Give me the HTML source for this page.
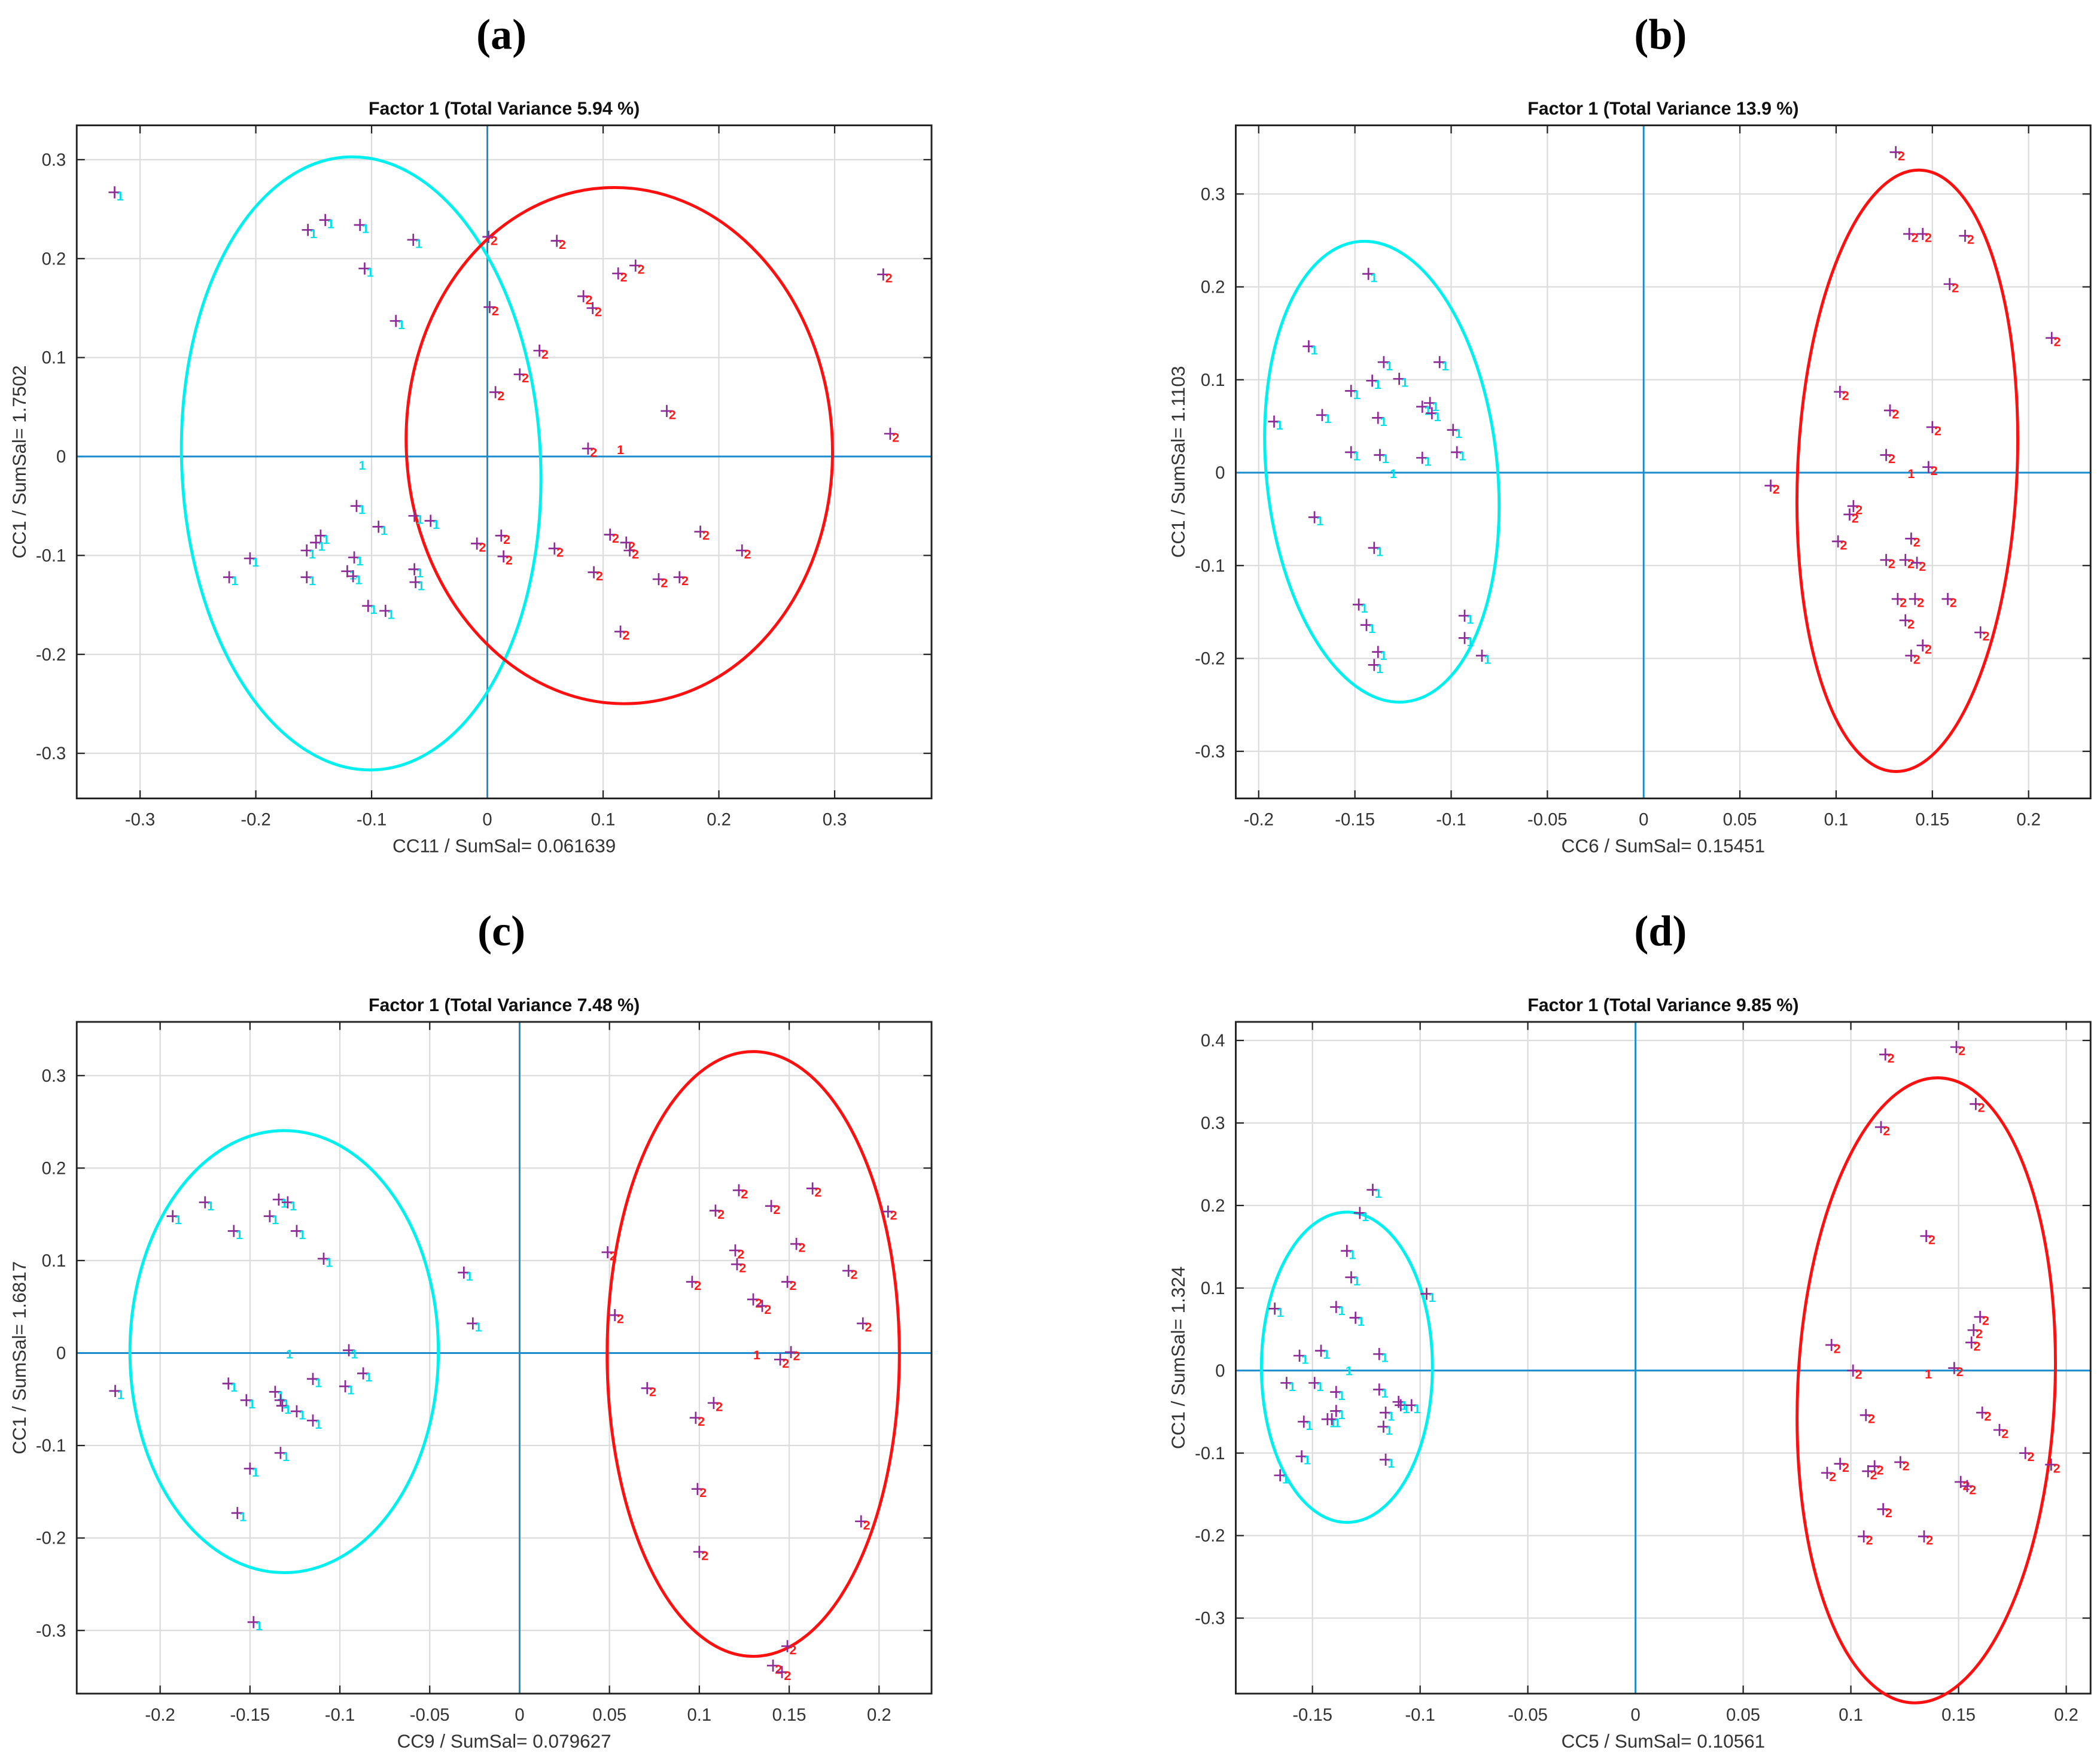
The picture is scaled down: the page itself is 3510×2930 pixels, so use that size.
<!DOCTYPE html>
<html><head><meta charset="utf-8"><style>
html,body{margin:0;padding:0;background:#fff;}
svg{display:block;}
</style></head><body>
<svg id="fig" width="3510" height="2930" viewBox="0 0 1560 1302" xmlns="http://www.w3.org/2000/svg" font-family="Liberation Sans, Arial, sans-serif"></svg>
<script>
// ---------- data ----------
const panelLetters = ["(a)","(b)","(c)","(d)"];
const panelTitles = ["Factor 1 (Total Variance 5.94 %)","Factor 1 (Total Variance 13.9 %)","Factor 1 (Total Variance 7.48 %)","Factor 1 (Total Variance 9.85 %)"];
const xLabels = ["CC11 / SumSal= 0.061639","CC6 / SumSal= 0.15451","CC9 / SumSal= 0.079627","CC5 / SumSal= 0.10561"];
const yLabels = ["CC1 / SumSal= 1.7502","CC1 / SumSal= 1.1103","CC1 / SumSal= 1.6817","CC1 / SumSal= 1.324"];
const xDomains = [[-0.3547,0.3837],[-0.2119,0.2322],[-0.2464,0.2292],[-0.1856,0.2113]];
const yDomains = [[-0.3456,0.3347],[-0.3507,0.3739],[-0.3683,0.3581],[-0.3915,0.4225]];
const xTicks = [[-0.3,-0.2,-0.1,0,0.1,0.2,0.3],[-0.2,-0.15,-0.1,-0.05,0,0.05,0.1,0.15,0.2],[-0.2,-0.15,-0.1,-0.05,0,0.05,0.1,0.15,0.2],[-0.15,-0.1,-0.05,0,0.05,0.1,0.15,0.2]];
const yTicks = [[-0.3,-0.2,-0.1,0,0.1,0.2,0.3],[-0.3,-0.2,-0.1,0,0.1,0.2,0.3],[-0.3,-0.2,-0.1,0,0.1,0.2,0.3],[-0.3,-0.2,-0.1,0,0.1,0.2,0.3,0.4]];

const aCyanX=[-0.322,-0.155,-0.140,-0.110,-0.106,-0.064,-0.079,-0.113,-0.094,-0.144,-0.148,-0.156,-0.115,-0.121,-0.116,-0.063,-0.049,-0.063,-0.062,-0.103,-0.088,-0.205,-0.223,-0.156];
const aCyanY=[0.267,0.229,0.239,0.234,0.190,0.219,0.137,-0.050,-0.071,-0.080,-0.087,-0.095,-0.102,-0.116,-0.121,-0.060,-0.065,-0.114,-0.127,-0.151,-0.156,-0.103,-0.122,-0.122];
const aRedX=[0.001,0.002,0.060,0.083,0.091,0.113,0.128,0.007,0.028,0.045,0.155,0.087,0.348,0.342,-0.009,0.014,0.012,0.058,0.106,0.120,0.123,0.092,0.148,0.166,0.184,0.220,0.115];
const aRedY=[0.222,0.151,0.218,0.162,0.150,0.185,0.193,0.065,0.083,0.107,0.046,0.008,0.023,0.184,-0.088,-0.101,-0.080,-0.093,-0.079,-0.087,-0.095,-0.117,-0.124,-0.122,-0.076,-0.095,-0.177];

const bCyanX=[-0.192,-0.174,-0.167,-0.171,-0.143,-0.152,-0.141,-0.135,-0.127,-0.138,-0.152,-0.137,-0.115,-0.115,-0.111,-0.110,-0.106,-0.099,-0.097,-0.140,-0.148,-0.144,-0.138,-0.140,-0.093,-0.093,-0.084];
const bCyanY=[0.055,0.136,0.062,-0.048,0.214,0.088,0.099,0.119,0.101,0.059,0.022,0.019,0.016,0.071,0.075,0.064,0.119,0.046,0.022,-0.081,-0.142,-0.164,-0.193,-0.207,-0.154,-0.178,-0.197];
const bRedX=[0.131,0.138,0.145,0.167,0.159,0.212,0.102,0.128,0.150,0.126,0.148,0.066,0.109,0.107,0.101,0.139,0.126,0.136,0.142,0.132,0.141,0.158,0.136,0.145,0.139,0.175];
const bRedY=[0.345,0.257,0.257,0.255,0.203,0.145,0.087,0.067,0.049,0.019,0.006,-0.014,-0.036,-0.045,-0.074,-0.071,-0.094,-0.094,-0.097,-0.136,-0.136,-0.136,-0.159,-0.186,-0.197,-0.172];

const cCyanX=[-0.225,-0.193,-0.175,-0.159,-0.139,-0.134,-0.129,-0.124,-0.109,-0.162,-0.152,-0.136,-0.133,-0.132,-0.124,-0.115,-0.115,-0.095,-0.097,-0.087,-0.133,-0.150,-0.157,-0.148,-0.031,-0.026];
const cCyanY=[-0.041,0.148,0.163,0.132,0.148,0.166,0.163,0.132,0.102,-0.033,-0.051,-0.042,-0.051,-0.057,-0.063,-0.073,-0.028,0.003,-0.036,-0.022,-0.108,-0.125,-0.173,-0.291,0.087,0.032];
const cRedX=[0.049,0.053,0.109,0.122,0.140,0.163,0.120,0.121,0.096,0.154,0.130,0.135,0.149,0.183,0.191,0.205,0.071,0.108,0.098,0.151,0.145,0.099,0.100,0.190,0.149,0.141,0.146];
const cRedY=[0.109,0.041,0.154,0.176,0.159,0.178,0.111,0.096,0.077,0.118,0.058,0.051,0.077,0.089,0.032,0.153,-0.038,-0.054,-0.070,0.001,-0.007,-0.147,-0.215,-0.182,-0.317,-0.338,-0.345];

const dCyanX=[-0.1675,-0.165,-0.162,-0.156,-0.154,-0.155,-0.149,-0.146,-0.143,-0.141,-0.139,-0.139,-0.139,-0.134,-0.132,-0.130,-0.128,-0.122,-0.119,-0.119,-0.117,-0.116,-0.116,-0.110,-0.109,-0.104,-0.097];
const dCyanY=[0.075,-0.127,-0.015,0.018,-0.062,-0.104,-0.015,0.024,-0.059,-0.059,-0.049,0.077,-0.026,0.145,0.113,0.064,0.191,0.219,0.020,-0.023,-0.068,-0.051,-0.108,-0.038,-0.042,-0.042,0.093];
const dRedX=[0.116,0.149,0.158,0.114,0.135,0.160,0.157,0.156,0.091,0.101,0.148,0.107,0.161,0.169,0.181,0.193,0.095,0.089,0.108,0.111,0.123,0.151,0.154,0.115,0.106,0.134];
const dRedY=[0.383,0.392,0.323,0.295,0.163,0.065,0.049,0.034,0.031,0.000,0.003,-0.054,-0.051,-0.072,-0.100,-0.114,-0.113,-0.124,-0.122,-0.116,-0.111,-0.135,-0.140,-0.168,-0.201,-0.201];

const cyanCenters = [[-0.108,-0.008],[-0.130,0.0],[-0.128,0.0],[-0.133,0.001]];
const redCenters = [[0.115,0.008],[0.139,0.0],[0.132,-0.001],[0.136,-0.003]];
const cyanEllipses = [[-0.109,-0.007,0.155,0.310,-2.5],[-0.136,0.001,0.060,0.249,-5.8],[-0.131,0.0015,0.0858,0.239,0],[-0.134,0.004,0.0397,0.188,0]];
const redEllipses = [[0.114,0.011,0.184,0.261,-3.5],[0.137,0.002,0.057,0.324,2.5],[0.130,-0.001,0.0813,0.327,0],[0.135,-0.024,0.0597,0.379,2.5]];

const cyanXs=[aCyanX,bCyanX,cCyanX,dCyanX], cyanYs=[aCyanY,bCyanY,cCyanY,dCyanY];
const redXs=[aRedX,bRedX,cRedX,dRedX], redYs=[aRedY,bRedY,cRedY,dRedY];

// ---------- layout ----------
const boxes=[[57,93,692,593],[918,93,1553,593],[57,759,692,1258],[918,759,1553,1258]];
const NS="http://www.w3.org/2000/svg";
const svg=document.getElementById('fig');
function mk(tag,attrs,parent){const e=document.createElementNS(NS,tag);for(const k in attrs)e.setAttribute(k,attrs[k]);(parent||svg).appendChild(e);return e;}
function fmt(v){if(Math.abs(v)<1e-9)return"0";return (Math.round(v*100)/100).toString();}

for(let p=0;p<4;p++){
  const [L,T,R,B]=boxes[p];
  const xd=xDomains[p], yd=yDomains[p];
  const sx=v=>L+(v-xd[0])/(xd[1]-xd[0])*(R-L);
  const sy=v=>B-(v-yd[0])/(yd[1]-yd[0])*(B-T);
  const g=mk('g',{});
  
  
  const lt=mk('text',{x:(L+R)/2-2,y:T-57,'text-anchor':'middle','font-size':32,'font-weight':'bold',style:'font-family:"Liberation Serif",serif'},g);
  lt.textContent=panelLetters[p];
  
  
  const tt=mk('text',{x:(L+R)/2,y:T-8,'text-anchor':'middle','font-size':13.5,'font-weight':'bold',fill:'#111'},g);
  tt.textContent=panelTitles[p];
  
  
  xTicks[p].forEach(t=>{
    const x=sx(t);
    const gl=mk('line',{x1:x,x2:x,y1:T,y2:B,stroke:'#dcdcdc','stroke-width':1},g);
    
    
    mk('line',{x1:x,x2:x,y1:B,y2:B-6,stroke:'#222','stroke-width':1},g);
    mk('line',{x1:x,x2:x,y1:T,y2:T+6,stroke:'#222','stroke-width':1},g);
    const tl=mk('text',{x:x,y:B+20,'text-anchor':'middle','font-size':13,fill:'#333'},g);
    tl.textContent=fmt(t);
    
    
  });
  yTicks[p].forEach(t=>{
    const y=sy(t);
    const gl=mk('line',{x1:L,x2:R,y1:y,y2:y,stroke:'#dcdcdc','stroke-width':1},g);
    
    
    mk('line',{x1:L,x2:L+6,y1:y,y2:y,stroke:'#222','stroke-width':1},g);
    mk('line',{x1:R,x2:R-6,y1:y,y2:y,stroke:'#222','stroke-width':1},g);
    const tl=mk('text',{x:L-8,y:y+4.5,'text-anchor':'end','font-size':13,fill:'#333'},g);
    tl.textContent=fmt(t);
    
    
  });
  const zx=mk('line',{x1:sx(0),x2:sx(0),y1:T,y2:B,stroke:'#1a8bcc','stroke-width':1.3},g);
  
  
  const zy=mk('line',{x1:L,x2:R,y1:sy(0),y2:sy(0),stroke:'#1a8bcc','stroke-width':1.3},g);
  
  
  const fr=mk('rect',{x:L,y:T,width:R-L,height:B-T,fill:'none',stroke:'#222','stroke-width':1.3},g);
  
  
  const xl=mk('text',{x:(L+R)/2,y:B+40,'text-anchor':'middle','font-size':14,fill:'#333'},g);
  xl.textContent=xLabels[p];
  
  
  const yl=mk('text',{x:0,y:0,'text-anchor':'middle','font-size':14,fill:'#333',transform:`translate(${L-38},${(T+B)/2}) rotate(-90)`},g);
  yl.textContent=yLabels[p];
  
  
  [[cyanEllipses[p],'#00f0f0','cyan-ellipse'],[redEllipses[p],'#ff1010','red-ellipse']].forEach(([e,c,n])=>{
    const cx=sx(e[0]),cy=sy(e[1]),rx=sx(e[0]+e[2])-cx,ry=cy-sy(e[1]+e[3]);
    const el=mk('ellipse',{cx:cx,cy:cy,rx:rx,ry:ry,fill:'none',stroke:c,'stroke-width':2.2,transform:`rotate(${e[4]} ${cx} ${cy})`},g);
    
    
  });
  function pts(xs,ys,lab,col,name){
    for(let i=0;i<xs.length;i++){
      const x=sx(xs[i]),y=sy(ys[i]);
      const pg=mk('g',{},g);
      
      
      mk('line',{x1:x-4.5,x2:x+4.5,y1:y,y2:y,stroke:'#8e2a98','stroke-width':1.2},pg);
      mk('line',{x1:x,x2:x,y1:y-4.5,y2:y+4.5,stroke:'#8e2a98','stroke-width':1.2},pg);
      const t=mk('text',{x:x+1.5,y:y+6,'font-size':9.5,'font-weight':'bold',fill:col},pg);
      t.textContent=lab;
    }
  }
  pts(cyanXs[p],cyanYs[p],'1','#00e0e8','point-group1');
  pts(redXs[p],redYs[p],'2','#ff1a1a','point-group2');
  [[cyanCenters[p],'#00e0e8','centroid-group1'],[redCenters[p],'#ff1a1a','centroid-group2']].forEach(([c,col,n])=>{
    const t=mk('text',{x:sx(c[0]),y:sy(c[1])+4,'text-anchor':'middle','font-size':9.5,'font-weight':'bold',fill:col},g);
    t.textContent='1';
    
    
  });
}
</script>
</body></html>
